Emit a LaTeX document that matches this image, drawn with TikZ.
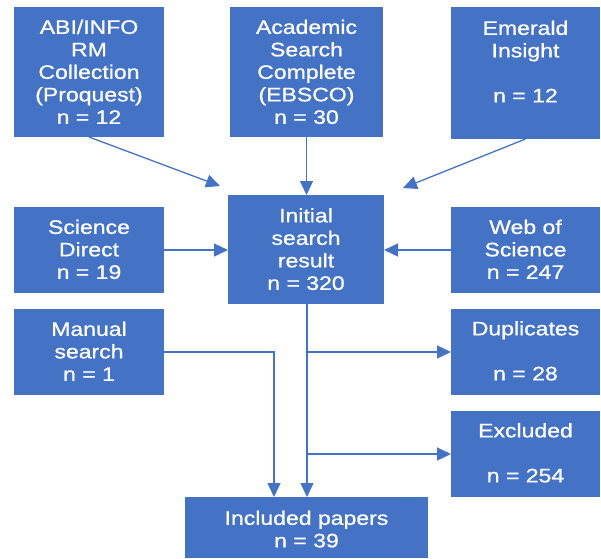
\documentclass[tikz,border=0pt]{standalone}
\usepackage{fontspec}
\setmainfont{Liberation Sans}[FakeStretch=1.18,FakeBold=0.8]
\usetikzlibrary{arrows.meta}
\definecolor{boxblue}{HTML}{4472C4}
\begin{document}
\begin{tikzpicture}[x=1pt,y=-1pt,
  box/.style={rectangle, fill=boxblue, draw=none, inner sep=0pt, outer sep=0pt, anchor=north west},
  txt/.style={text=white, align=center, inner sep=0pt, anchor=north, font=\fontsize{19.5}{22.5}\selectfont},
  conn/.style={draw=boxblue, line width=1.3pt, -{Triangle[length=14pt,width=13pt]}},
  plain/.style={draw=boxblue, line width=1.3pt}]
\useasboundingbox (0,0) rectangle (601,558);
% boxes
\node[box, minimum width=150pt, minimum height=130pt] (abi) at (14,7) {};
\node[box, minimum width=153pt, minimum height=130pt] (acad) at (230,7) {};
\node[box, minimum width=149pt, minimum height=132pt] (emer) at (451,7) {};
\node[box, minimum width=156pt, minimum height=109pt] (init) at (228,195) {};
\node[box, minimum width=150pt, minimum height=86pt] (sd) at (14,207) {};
\node[box, minimum width=149pt, minimum height=86pt] (wos) at (451,207) {};
\node[box, minimum width=150pt, minimum height=86pt] (man) at (14,309) {};
\node[box, minimum width=149pt, minimum height=86pt] (dup) at (451,309) {};
\node[box, minimum width=149pt, minimum height=86pt] (exc) at (451,411) {};
\node[box, minimum width=243pt, minimum height=61pt] (inc) at (185,497) {};
% texts
\node[txt] (tabi) at ([yshift=-12.5pt]abi.north) {ABI/INFO\\RM\\Collection\\(Proquest)\\n = 12};
\node[txt] (tacad) at ([yshift=-12.5pt]acad.north) {Academic\\Search\\Complete\\(EBSCO)\\n = 30};
\node[txt] (temer) at ([yshift=-13.5pt]emer.north) {Emerald\\Insight\\ \\n = 12};
\node[txt] (tinit) at ([yshift=-13pt]init.north) {Initial\\search\\result\\n = 320};
\node[txt] (tsd) at ([yshift=-12.5pt]sd.north) {Science\\Direct\\n = 19};
\node[txt] (twos) at ([yshift=-12.5pt]wos.north) {Web of\\Science\\n = 247};
\node[txt] (tman) at ([yshift=-12.5pt]man.north) {Manual\\search\\n = 1};
\node[txt] (tdup) at ([yshift=-12pt]dup.north) {Duplicates\\ \\n = 28};
\node[txt] (texc) at ([yshift=-12pt]exc.north) {Excluded\\ \\n = 254};
\node[txt] (tinc) at ([yshift=-13.5pt]inc.north) {Included papers\\n = 39};
% connector ends
\coordinate (abiend) at (220,186);
\coordinate (emerend) at (403,188);
\coordinate (trunkx) at (307,0);
\coordinate (manx) at (274,0);
% connectors
\draw[conn] (abi.south) -- (abiend);
\draw[conn] (acad.south) -- (acad.south |- init.north);
\draw[conn] (emer.south) -- (emerend);
\draw[conn] (sd.east) -- (sd.east -| init.west);
\draw[conn] (wos.west) -- (wos.west -| init.east);
\draw[conn] (trunkx |- init.south) -- (trunkx |- inc.north);
\draw[conn] (trunkx |- dup.west) -- (dup.west);
\draw[conn] (trunkx |- exc.west) -- (exc.west);
\draw[conn] (man.east) -- (manx |- man.east) -- (manx |- inc.north);
\end{tikzpicture}
\end{document}
